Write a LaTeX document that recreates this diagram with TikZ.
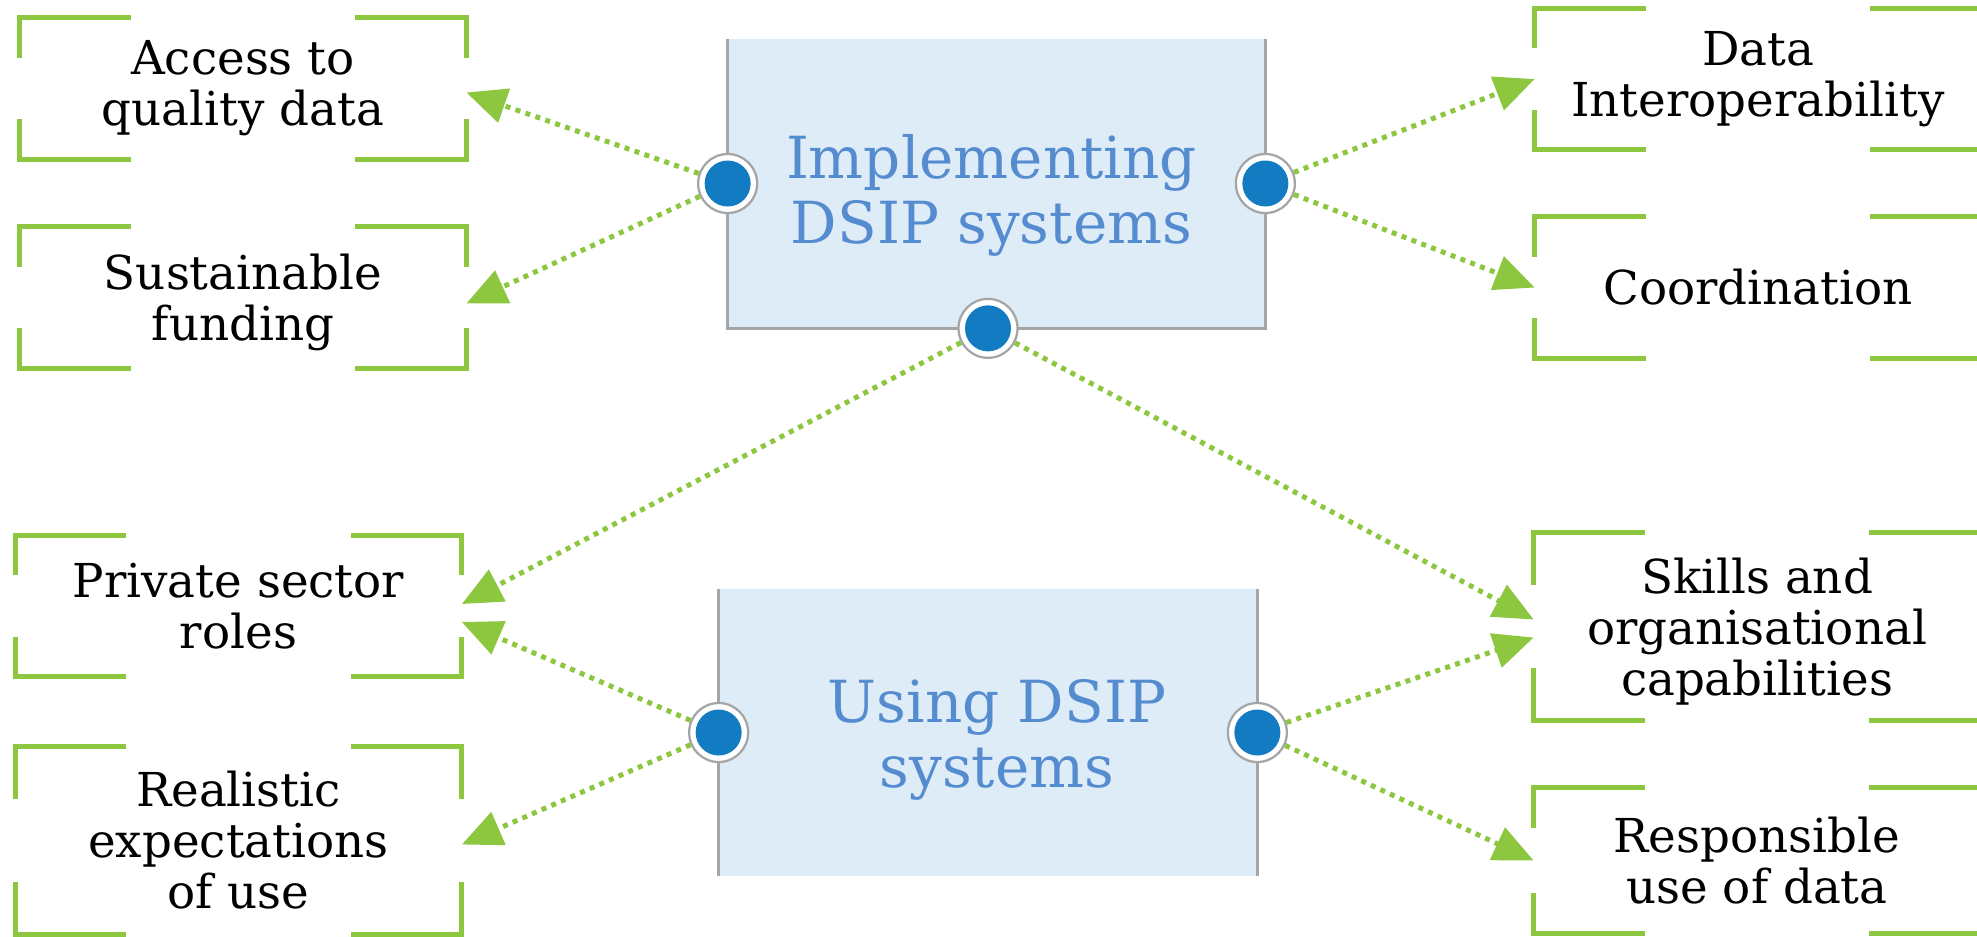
\documentclass[tikz,border=0pt]{standalone}
\usepackage{fontspec}
\setmainfont{DejaVu Serif}
\usepackage{xcolor}
\usepackage{tikz}
\usetikzlibrary{arrows.meta}

\definecolor{leaf}{HTML}{8DC63F}
\definecolor{dotblue}{HTML}{137BC1}
\definecolor{titleblue}{HTML}{558CCF}
\definecolor{panelblue}{HTML}{DDECF7}
\definecolor{rimgray}{HTML}{A5A5A5}

\begin{document}
\begin{tikzpicture}[x=0.2mm,y=-0.2mm,
    topic/.style={minimum width=89.2mm,minimum height=28.2mm,inner sep=0pt,align=center,font=\fontsize{26.6}{29}\selectfont},
    tall/.style={minimum height=37.4mm},
    corner/.style={draw=leaf,line width=1mm},
    panel/.style={fill=panelblue,inner sep=0pt},
    theme/.style={align=center,text=titleblue,font=\fontsize{33}{37}\selectfont},
    rim/.style={draw=rimgray,line width=0.5mm},
    hub/.style={circle,fill=white,draw=rimgray,line width=0.45mm,minimum size=11.8mm,inner sep=0pt,
        path picture={\fill[dotblue] (path picture bounding box.center) circle (4.6mm);}},
    link/.style={draw=leaf,line width=1mm,dash pattern=on 1mm off 1.1mm,-{Triangle[length=8mm,width=7mm]}}]
    \useasboundingbox (0,0) rectangle (1977,936);

    \node[panel,minimum width=107.4mm,minimum height=57.8mm] (impl) at (996.5,183.5) {};
    \node[panel,minimum width=107.6mm,minimum height=57.4mm] (use) at (988,732.5) {};
    \draw[rim] (impl.north west) -- (impl.south west) -- (impl.south east) -- (impl.north east);
    \draw[rim] (use.north west) -- (use.south west);
    \draw[rim] (use.north east) -- (use.south east);
    \node[theme] (impltxt) at ([xshift=-1mm,yshift=-2.3mm]impl.center) {Implementing\\DSIP systems};
    \node[theme] (usetxt) at ([xshift=1.8mm,yshift=-1.5mm]use.center) {Using DSIP\\systems};

    \node[topic] (acc) at (243,88.5) {Access to\\quality data};
    \node[topic,text depth=0pt] (fund) at (243,297.5) {Sustainable\\funding};
    \node[topic] (priv) at (238.5,606) {Private sector\\roles};
    \node[topic,tall] (real) at (238.5,840.5) {Realistic\\expectations\\of use};
    \node[topic] (inter) at (1758,79) {Data\\Interoperability};
    \node[topic] (coord) at (1758,287.5) {Coordination};
    \node[topic,tall,text depth=0pt] (skill) at (1757,626.5) {Skills and\\organisational\\capabilities};
    \node[topic,minimum height=29mm] (resp) at (1757,860.5) {Responsible\\use of data};

    \foreach \n/\v in {acc/40,fund/40,priv/40,real/52,inter/40,coord/40,skill/52,resp/40} {
        \draw[corner] (\n.north west) ++(0,\v) -- (\n.north west) -- ++(111,0);
        \draw[corner] (\n.north east) ++(0,\v) -- (\n.north east) -- ++(-111,0);
        \draw[corner] (\n.south west) ++(0,-\v) -- (\n.south west) -- ++(111,0);
        \draw[corner] (\n.south east) ++(0,-\v) -- (\n.south east) -- ++(-111,0);
    }

    \node[hub] (dl) at (impl.west) {};
    \node[hub] (dr) at (impl.east) {};
    \node[hub] (db) at ([xshift=-1.7mm]impl.south) {};
    \node[hub] (ul) at (use.west) {};
    \node[hub] (ur) at (use.east) {};

    \draw[link] (dl) -- ([shift={(0,4)}]acc.east);
    \draw[link] (dl) -- ([shift={(0,6)}]fund.east);
    \draw[link] (dr) -- (inter.west);
    \draw[link] (dr) -- (coord.west);
    \draw[link] (db) -- ([shift={(0,-2)}]priv.east);
    \draw[link] (db) -- ([shift={(0,-7)}]skill.west);
    \draw[link] (ul) -- ([shift={(0,16)}]priv.east);
    \draw[link] (ul) -- ([shift={(0,4)}]real.east);
    \draw[link] (ur) -- ([shift={(0,11)}]skill.west);
    \draw[link] (ur) -- (resp.west);
\end{tikzpicture}
\end{document}
